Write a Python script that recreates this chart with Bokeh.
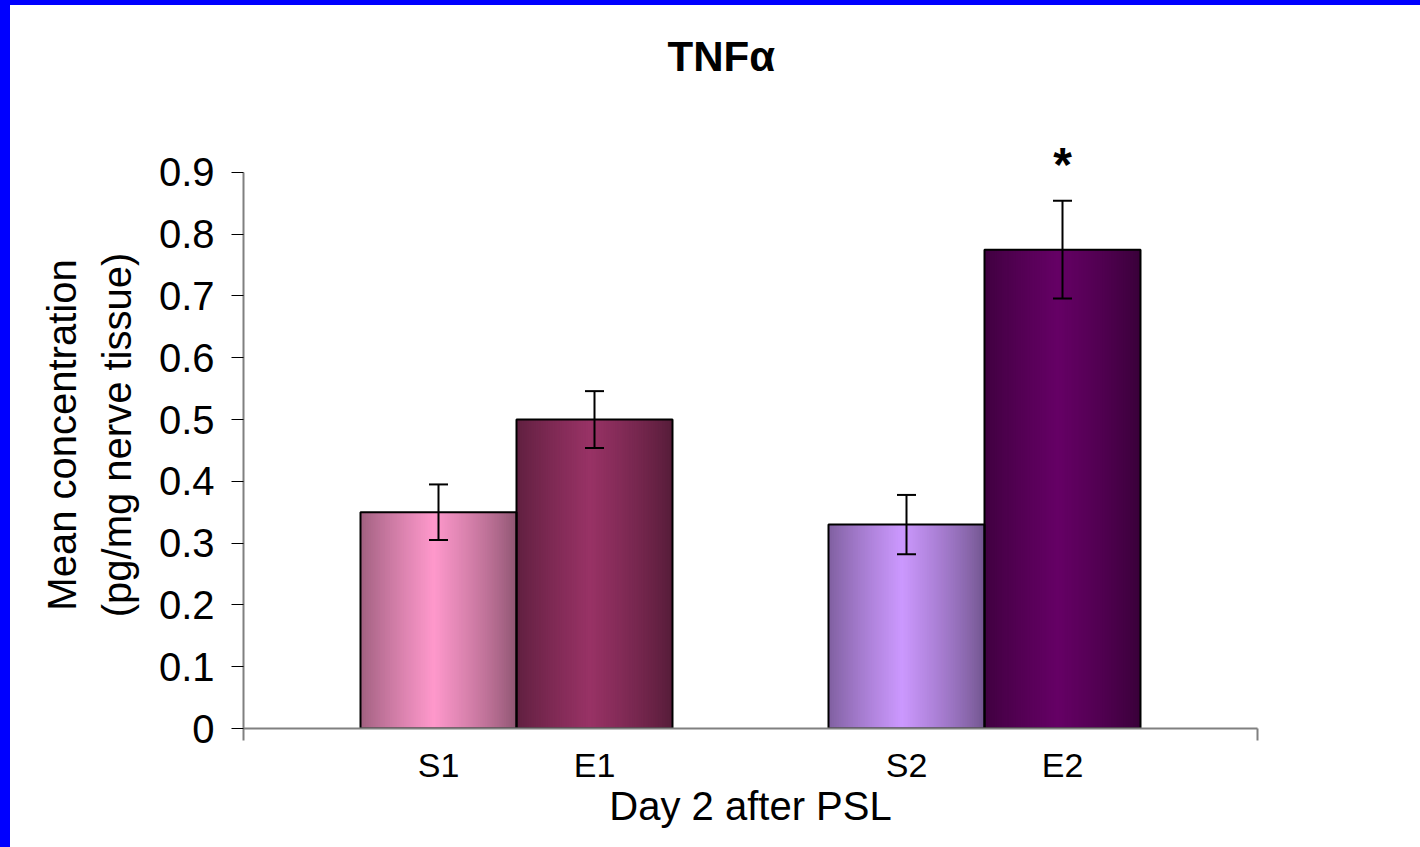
from bokeh.plotting import figure
from bokeh.models import (ColumnDataSource, Whisker, TeeHead, FixedTicker, Range1d,
                          Spacer, Title)
from bokeh.layouts import column, row
from bokeh.core.properties import value
from bokeh.embed import file_html
from bokeh.resources import INLINE

# ---- data ----
CATEGORIES = ["S1", "E1", "S2", "E2"]
GROUP = [0, 0, 1, 1]          # which pair each bar belongs to
WITHIN = [0, 1, 0, 1]         # position inside its pair
VALUES = [0.35, 0.50, 0.33, 0.775]
ERRORS = [0.045, 0.046, 0.048, 0.079]
SIGNIF = ["", "", "", "*"]
BASE_COLORS = ["#FF99CC", "#993366", "#CC99FF", "#660066"]
Y_TICKS = [0, 0.1, 0.2, 0.3, 0.4, 0.5, 0.6, 0.7, 0.8, 0.9]
Y_TICK_LABELS = ["0", "0.1", "0.2", "0.3", "0.4", "0.5", "0.6", "0.7", "0.8", "0.9"]
Y_AXIS_MAX = 0.9
TITLE = "TNFα"
X_LABEL = "Day 2 after PSL"
Y_LABEL = "Mean concentration\n(pg/mg nerve tissue)"

# ---- layout constants (in bar-width units) ----
BAR_W = 1.0
GROUP_GAP = 1.0
EDGE_PAD = 0.75
N_GROUPS = 2
X_END = 2 * EDGE_PAD + N_GROUPS * 2 * BAR_W + (N_GROUPS - 1) * GROUP_GAP
Y_HEADROOM = 0.05   # space above the axis for the significance mark
SIG_GAP = 0.059

centers = [EDGE_PAD + g * (2 * BAR_W + GROUP_GAP) + k * BAR_W + BAR_W / 2
           for g, k in zip(GROUP, WITHIN)]

FONT = "Liberation Sans"
FRAME_BLUE = "#0000FF"
BAND_LEFT = 10
BAND_TOP = 5

p = figure(width=1410, height=842, output_backend="svg", toolbar_location=None,
           x_range=Range1d(0, X_END), y_range=Range1d(0, Y_AXIS_MAX + Y_HEADROOM),
           min_border_left=233, min_border_right=163, min_border_top=136,
           min_border_bottom=119)
p.outline_line_color = None
p.xgrid.visible = False
p.ygrid.visible = False
p.background_fill_color = "white"
p.border_fill_color = "white"

# title (with an invisible spacer title between it and the plot area)
p.title.text = TITLE
p.title.text_font = FONT
p.title.text_font_size = "42px"
p.title.text_font_style = "bold"
p.title.text_color = "black"
p.title.align = "left"
p.title.offset = 424
p.title.standoff = 10
p.add_layout(Title(text=" ", text_font_size="1px", standoff=54), "above")

# ---- gradient bars: overlapping strips painted left to right ----
def hex_to_rgb(h):
    h = h.lstrip("#")
    return tuple(int(h[i:i + 2], 16) for i in (0, 2, 4))

N_STRIPS = 90
EDGE_FACTOR = 0.55
lefts, rights, tops, colors = [], [], [], []
for c, v, col in zip(centers, VALUES, BASE_COLORS):
    r, g, b = hex_to_rgb(col)
    x0 = c - BAR_W / 2
    sw = BAR_W / N_STRIPS
    for i in range(N_STRIPS):
        t = (i + 0.5) / N_STRIPS
        f = 1 - min(abs(t - 0.47) / 0.53, 1.0)
        f = f ** 0.8
        k = EDGE_FACTOR + (1 - EDGE_FACTOR) * f
        rr, gg, bb = int(r * k), int(g * k), int(b * k)
        lefts.append(x0 + i * sw)
        rights.append(x0 + BAR_W)
        tops.append(v)
        colors.append("#%02x%02x%02x" % (rr, gg, bb))

strips = ColumnDataSource(dict(left=lefts, right=rights, top=tops,
                               bottom=[0] * len(tops), color=colors))
p.quad(left="left", right="right", top="top", bottom="bottom", source=strips,
       fill_color="color", line_color=None)

src = ColumnDataSource(dict(
    x=centers, top=VALUES,
    upper=[v + e for v, e in zip(VALUES, ERRORS)],
    lower=[v - e for v, e in zip(VALUES, ERRORS)],
    sig=SIGNIF,
    sig_y=[v + e + SIG_GAP for v, e in zip(VALUES, ERRORS)],
))
p.vbar(x="x", top="top", bottom=0, width=BAR_W, source=src,
       fill_color=None, line_color="black", line_width=2)

wh = Whisker(source=src, base="x", upper="upper", lower="lower",
             line_color="black", line_width=2, level="overlay",
             upper_head=TeeHead(size=19, line_width=2, line_color="black"),
             lower_head=TeeHead(size=19, line_width=2, line_color="black"))
p.add_layout(wh)

p.text(x="x", y="sig_y", text="sig", source=src, text_align="center",
       text_baseline="middle", text_font=value(FONT), text_font_size="48px",
       text_font_style="bold", text_color="black")

# ---- axes ----
xa = p.xaxis[0]
xa.ticker = FixedTicker(ticks=centers, minor_ticks=[0, X_END])
xa.major_label_overrides = {c: lab for c, lab in zip(centers, CATEGORIES)}
xa.major_tick_line_color = None
xa.major_tick_in = 0
xa.major_tick_out = 0
xa.minor_tick_in = 0
xa.minor_tick_out = 12
xa.minor_tick_line_color = "#808080"
xa.minor_tick_line_width = 2
xa.axis_line_color = "#808080"
xa.axis_line_width = 2
xa.major_label_text_font = FONT
xa.major_label_text_font_size = "34px"
xa.major_label_text_color = "black"
xa.major_label_standoff = 5
xa.axis_label = X_LABEL
xa.axis_label_text_font = FONT
xa.axis_label_text_font_size = "40px"
xa.axis_label_text_font_style = "normal"
xa.axis_label_text_color = "black"
xa.axis_label_standoff = -3

ya = p.yaxis[0]
ya.ticker = FixedTicker(ticks=Y_TICKS, minor_ticks=[])
ya.bounds = (0, Y_AXIS_MAX)
ya.major_label_overrides = {t: lab for t, lab in zip(Y_TICKS, Y_TICK_LABELS)}
ya.major_tick_in = 0
ya.major_tick_out = 12
ya.major_tick_line_color = "black"
ya.major_tick_line_width = 1
ya.axis_line_color = "#808080"
ya.axis_line_width = 2
ya.major_label_text_font = FONT
ya.major_label_text_font_size = "40px"
ya.major_label_text_color = "black"
ya.major_label_standoff = 17
ya.axis_label = Y_LABEL
ya.axis_label_text_font = FONT
ya.axis_label_text_font_size = "40px"
ya.axis_label_text_font_style = "normal"
ya.axis_label_text_color = "black"
ya.axis_label_text_line_height = 1.25
ya.axis_label_standoff = 17

# blue slide border on the left and top
top_band = Spacer(width=1420, height=BAND_TOP, styles={"background-color": FRAME_BLUE})
left_band = Spacer(width=BAND_LEFT, height=842, styles={"background-color": FRAME_BLUE})
page = column(top_band, row(left_band, p, spacing=0), spacing=0)

open("out.html", "w").write(file_html(page, INLINE))
